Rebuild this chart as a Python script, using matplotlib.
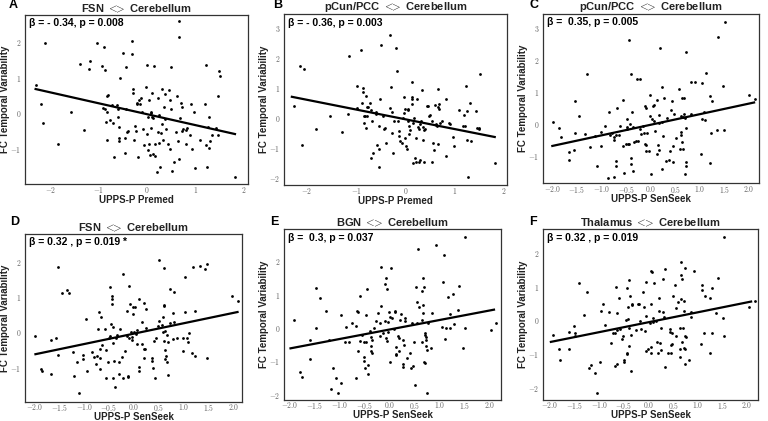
import numpy as np
import matplotlib
matplotlib.use("Agg")
import matplotlib.pyplot as plt
from matplotlib.ticker import FuncFormatter

plt.rcParams['font.family'] = ['Liberation Sans', 'DejaVu Sans']
plt.rcParams['mathtext.fontset'] = 'cm'

# ---------------- data ----------------
titles = [r"FSN $<\!\!\!>$ Cerebellum", r"pCun/PCC $<\!\!\!>$ Cerebellum", r"pCun/PCC $<\!\!\!>$ Cerebellum",
          r"FSN $<\!\!\!>$ Cerebellum", r"BGN $<\!\!\!>$ Cerebellum", r"Thalamus $<\!\!\!>$ Cerebellum"]
letters = ["A", "B", "C", "D", "E", "F"]
xlabels = ["UPPS-P Premed", "UPPS-P Premed", "UPPS-P SenSeek",
           "UPPS-P SenSeek", "UPPS-P SenSeek", "UPPS-P SenSeek"]
stats = ["β = - 0.34, p = 0.008", "β = - 0.36, p = 0.003", "β =  0.35, p = 0.005",
         "β = 0.32 , p = 0.019 *", "β =  0.3, p = 0.037", "β = 0.32 , p = 0.019"]

a_x = [-2.31, -2.12, -2.20, -2.15, -1.85, -1.58, -1.39, -1.31, -1.19, -1.20, -1.03, -0.93, -0.89, -0.87,
       -0.87, -0.91, -0.84, -0.83, -0.81, -0.86, -0.77, -0.83, -0.72, -0.68, -0.70, -0.63, -0.61, -0.60,
       -0.59, -0.58, -0.58, -0.57, -0.51, -0.46, -0.44, -0.45, -0.43, -0.41, -0.39, -0.32, -0.31, -0.29,
       -0.29, -0.26, -0.27, -0.24, -0.22, -0.20, -0.19, -0.17, -0.14, -0.12, -0.10, -0.08, -0.07, -0.03,
       -0.01, 0.00, 0.01, 0.01, 0.03, 0.03, 0.06, 0.08, 0.08, 0.09, 0.11, 0.11, 0.13, 0.12, 0.14, 0.16,
       0.17, 0.21, 0.22, 0.24, 0.23, 0.25, 0.26, 0.28, 0.30, 0.31, 0.32, 0.34, 0.37, 0.38, 0.39, 0.43,
       0.46, 0.47, 0.48, 0.49, 0.50, 0.52, 0.55, 0.59, 0.61, 0.64, 0.66, 0.66, 0.66, 0.68, 0.70, 0.72,
       0.73, 0.74, 0.80, 0.81, 0.83, 0.88, 0.90, 0.94, 0.97, 1.00, 1.10, 1.19, 1.21, 1.23, 1.24, 1.26,
       1.28, 1.28, 1.30, 1.34, 1.43, 1.46, 1.47, 1.49, 1.52, 1.83]
a_y = [0.79, 1.97, 0.25, -0.27, -0.86, 0.04, 1.40, -0.47, 1.46, 1.24, 1.99, 1.33, 1.86, 1.21,
       0.13, 0.14, 0.03, 0.48, 0.52, -0.26, -0.19, -0.77, 0.23, -1.25, -0.28, 0.23, 0.13, -0.11,
       -0.38, -0.70, -0.79, 1.00, 1.69, -0.69, 1.30, -1.13, 0.12, -0.54, -0.50, 1.66, 2.05, 0.69,
       0.56, -0.36, -0.77, -0.49, 0.25, 0.28, -1.24, 0.38, 0.26, 0.42, 0.02, -0.45, -0.90, 0.73,
       1.36, -0.60, -0.11, -1.03, 0.38, -0.87, -1.17, 0.03, -0.01, -0.42, 0.56, -0.11, -0.15, -1.16,
       1.33, -0.87, -1.22, -1.67, 0.43, -0.05, -0.54, -0.85, -1.52, -0.57, -0.30, 0.68, -0.77, 0.17,
       0.54, -0.16, -0.46, -0.86, 0.65, -1.00, 0.38, 1.30, 0.13, -1.64, -1.38, -0.53, 0.47, -0.79,
       -1.29, 2.59, 2.16, -0.15, 0.29, 0.16, -0.49, -0.46, -0.87, -0.47, -0.43, -0.62, 0.27, -1.02,
       0.02, -1.54, -0.75, 0.27, -0.91, 1.37, -1.52, -0.40, -0.12, -0.97, -0.78, -0.62, -0.42, -0.62,
       0.47, 1.19, 1.06, -1.80]

b_x = [-2.27, -2.15, -2.06, -2.10, -1.81, -1.53, -1.29, -1.16, -1.14, -0.99, -0.98, -0.90, -0.88, -0.87,
       -0.86, -0.84, -0.85, -0.82, -0.81, -0.80, -0.79, -0.76, -0.78, -0.72, -0.69, -0.69, -0.66, -0.67,
       -0.59, -0.59, -0.57, -0.54, -0.54, -0.54, -0.51, -0.50, -0.46, -0.43, -0.41, -0.40, -0.31, -0.31,
       -0.29, -0.28, -0.27, -0.26, -0.23, -0.18, -0.16, -0.14, -0.12, -0.12, -0.10, -0.07, -0.05, -0.03,
       -0.02, 0.00, -0.01, 0.01, 0.03, 0.05, 0.05, 0.06, 0.07, 0.08, 0.10, 0.13, 0.13, 0.14, 0.14, 0.16,
       0.16, 0.18, 0.20, 0.21, 0.22, 0.24, 0.25, 0.27, 0.27, 0.29, 0.30, 0.31, 0.33, 0.35, 0.36, 0.38,
       0.38, 0.40, 0.44, 0.47, 0.48, 0.50, 0.54, 0.54, 0.56, 0.59, 0.61, 0.62, 0.63, 0.65, 0.66, 0.66,
       0.67, 0.69, 0.69, 0.71, 0.74, 0.82, 0.83, 0.88, 0.90, 0.97, 1.00, 1.10, 1.18, 1.20, 1.22, 1.24,
       1.26, 1.26, 1.27, 1.31, 1.34, 1.44, 1.45, 1.49, 1.50, 1.53, 1.82]
b_y = [0.42, 1.74, 1.63, -0.88, -0.34, 0.08, -0.44, 0.13, 2.08, 1.08, 0.34, 2.29, 0.52, 1.02,
       0.87, 0.08, -0.17, 0.08, 0.73, -0.33, 0.38, 0.38, 0.09, 0.51, 0.28, -1.33, -1.16, -0.10,
       0.22, 0.14, -0.90, -1.03, -1.62, -0.25, 0.65, 2.46, 0.08, -0.37, -0.31, -0.83, 0.35, 2.79,
       1.03, 0.20, -0.48, -1.17, -0.10, 2.35, 1.57, -0.09, -0.42, -0.59, -0.75, -0.82, 0.00, 0.71,
       0.17, 0.30, -0.65, -0.92, -1.03, 0.27, 0.30, -0.10, -0.25, -0.52, -0.38, 0.66, 1.22, 0.49,
       0.70, -0.17, -1.50, 0.02, -1.31, -0.67, -1.44, 0.65, -0.29, -0.37, -1.47, -0.19, -1.40, -0.08,
       0.96, -0.72, -0.28, -0.39, -1.47, -0.37, 0.41, 0.41, 0.08, 0.10, -1.47, -0.10, -0.83, -1.05,
       0.46, -0.23, -0.20, -0.25, 0.98, 0.39, -0.86, 0.32, 0.49, -0.17, -0.10, -1.27, 0.65, -0.17,
       -0.20, -0.61, -0.92, 0.27, -0.25, 0.10, -0.27, 1.08, 0.24, -0.72, -1.94, 0.52, -0.75, 0.24,
       -0.31, -0.33, -0.34, 1.49, -1.50]

c_x = [-1.99, -1.86, -1.83, -1.67, -1.67, -1.57, -1.54, -1.54, -1.46, -1.34, -1.29, -1.23, -1.14, -1.09,
       -1.02, -1.01, -0.94, -0.87, -0.85, -0.82, -0.79, -0.75, -0.74, -0.71, -0.70, -0.70, -0.68, -0.65,
       -0.63, -0.75, -0.56, -0.56, -0.55, -0.51, -0.49, -0.48, -0.48, -0.47, -0.44, -0.44, -0.43, -0.41,
       -0.40, -0.40, -0.38, -0.37, -0.36, -0.35, -0.29, -0.28, -0.26, -0.22, -0.21, -0.20, -0.16, -0.14,
       -0.12, -0.12, -0.10, -0.10, -0.09, -0.07, -0.04, -0.02, -0.01, 0.01, 0.02, 0.05, 0.06, 0.07, 0.08,
       0.12, 0.13, 0.14, 0.16, 0.17, 0.17, 0.18, 0.22, 0.23, 0.23, 0.24, 0.26, 0.30, 0.33, 0.37, 0.39,
       0.42, 0.43, 0.45, 0.45, 0.48, 0.52, 0.57, 0.60, 0.62, 0.62, 0.62, 0.63, 0.63, 0.65, 0.66, 0.67,
       0.68, 0.69, 0.71, 0.71, 0.71, 0.70, 0.71, 0.81, 0.82, 0.89, 1.03, 1.04, 1.05, 1.09, 1.10, 1.13,
       1.20, 1.20, 1.23, 1.25, 1.35, 1.37, 1.46, 1.49, 1.50, 1.99, 2.12]
c_y = [0.05, -0.13, -0.41, -0.87, -1.12, -0.82, 0.71, -0.28, 0.25, -0.32, 1.56, -0.72, -0.38, -1.33,
       -0.24, -0.69, -0.07, -1.70, 0.38, -0.36, -0.30, -0.49, -0.41, -1.32, -1.15, -0.35, 0.49, -0.36,
       -0.07, -1.66, 0.76, -0.68, -1.54, -0.62, -0.15, 0.14, -0.09, -0.62, -0.64, 2.63, 0.01, 1.56,
       -1.06, -1.27, 0.37, -1.46, -0.09, -0.57, -0.55, 1.39, -0.55, -0.15, 1.40, -0.32, -0.07, -0.30,
       -0.62, 0.57, 0.51, -0.67, -0.85, -0.28, -0.84, 0.92, 0.26, -1.58, 0.16, 0.57, 0.09, 0.59, -0.22,
       -0.93, 0.74, -0.65, 0.29, 0.03, -0.83, 2.37, 1.14, 0.06, -1.40, -0.39, 0.82, -1.17, 0.19, -1.12,
       -0.85, 0.45, 0.71, -0.70, -1.18, 0.32, -0.44, 1.08, -0.78, 0.26, -0.36, -0.25, -0.57, 0.82, 0.22,
       -0.80, 0.80, 0.32, 0.17, -0.13, -1.19, -1.31, -1.58, 2.24, 0.32, 1.30, 1.30, -0.95, 1.28, 0.15,
       0.36, 0.12, 1.60, -1.21, 0.87, -0.28, 0.72, -0.20, 2.73, 1.18, -0.20, 3.18, 0.92, 0.77]

d_x = [-1.98, -1.87, -1.84, -1.67, -1.67, -1.57, -1.53, -1.53, -1.45, -1.34, -1.30, -1.23, -1.20, -1.14,
       -1.10, -1.03, -1.02, -0.97, -0.94, -0.85, -0.81, -0.76, -0.75, -0.73, -0.71, -0.69, -0.69, -0.68,
       -0.66, -0.65, -0.59, -0.57, -0.56, -0.53, -0.50, -0.49, -0.48, -0.46, -0.45, -0.44, -0.44, -0.43,
       -0.43, -0.42, -0.40, -0.39, -0.37, -0.35, -0.31, -0.31, -0.29, -0.25, -0.22, -0.22, -0.18, -0.15,
       -0.15, -0.13, -0.12, -0.10, -0.10, -0.09, -0.07, -0.05, -0.04, -0.02, -0.01, 0.01, 0.03, 0.04,
       0.06, 0.07, 0.10, 0.10, 0.10, 0.17, 0.17, 0.20, 0.20, 0.21, 0.23, 0.24, 0.24, 0.36, 0.37, 0.39,
       0.41, 0.43, 0.45, 0.48, 0.50, 0.51, 0.56, 0.58, 0.58, 0.60, 0.60, 0.60, 0.61, 0.62, 0.63, 0.63,
       0.65, 0.66, 0.67, 0.68, 0.69, 0.72, 0.73, 0.78, 0.79, 0.80, 0.80, 0.86, 0.98, 0.99, 1.02, 1.03,
       1.06, 1.08, 1.11, 1.16, 1.19, 1.22, 1.22, 1.32, 1.42, 1.47, 1.47, 1.96, 2.08]
d_y = [-0.09, -1.04, -1.10, -1.17, -0.21, -0.15, 1.87, -0.63, 1.13, 1.21, 1.12, -0.55, -1.23, -0.84,
       -1.72, -0.64, -0.76, 0.37, -1.10, -0.55, -0.71, -0.91, -0.67, 0.11, 0.59, -0.48, -1.05, -0.72,
       0.44, -0.35, 0.09, -0.51, -1.30, -0.84, -0.15, -0.11, 1.30, 0.25, 1.03, 0.96, 0.82, 0.15,
       -0.29, -1.31, -0.82, -1.55, -0.16, -0.06, -0.83, -1.17, 0.10, -0.70, -1.31, 1.66, -0.52, 0.61,
       -0.11, -1.27, -1.25, -0.15, 1.32, 0.82, 0.02, -0.21, -0.12, 0.52, 0.72, 0.02, 0.72, -0.04,
       -0.32, 0.08, -0.98, -1.10, 0.94, 0.30, -0.32, 0.83, -0.46, -0.74, -0.46, 0.66, 0.13, -0.80,
       -0.72, -1.00, -0.24, -1.29, -0.15, 0.17, 0.32, 2.07, 0.20, 0.43, 0.02, 1.82, 0.75, 0.78,
       -0.25, -0.50, 0.04, -0.77, -0.68, -0.84, -0.06, -0.27, -1.22, 1.24, 0.28, -0.20, 0.54, 1.16,
       0.29, -0.15, -0.52, -0.15, 1.59, 0.59, -0.15, -0.27, -0.02, -0.58, 1.86, -0.67, 0.61, 1.90,
       1.80, 1.95, -0.74, 1.05, 0.88]

e_x = [-1.91, -1.80, -1.75, -1.60, -1.60, -1.48, -1.47, -1.39, -1.28, -1.22, -1.17, -1.13, -1.07, -1.03,
       -0.97, -0.97, -0.90, -0.87, -0.81, -0.75, -0.68, -0.67, -0.65, -0.63, -0.63, -0.59, -0.60, -0.55,
       -0.52, -0.51, -0.51, -0.50, -0.48, -0.47, -0.45, -0.43, -0.43, -0.40, -0.38, -0.37, -0.35, -0.37,
       -0.35, -0.31, -0.28, -0.23, -0.20, -0.20, -0.17, -0.17, -0.14, -0.10, -0.10, -0.08, -0.07, -0.05,
       -0.05, -0.03, -0.03, -0.01, 0.00, 0.01, 0.03, 0.05, 0.08, 0.10, 0.11, 0.12, 0.13, 0.13, 0.17,
       0.18, 0.19, 0.21, 0.23, 0.26, 0.27, 0.27, 0.28, 0.30, 0.31, 0.35, 0.40, 0.42, 0.45, 0.46, 0.49,
       0.51, 0.53, 0.54, 0.55, 0.57, 0.59, 0.65, 0.65, 0.65, 0.67, 0.67, 0.67, 0.68, 0.69, 0.70, 0.70,
       0.71, 0.72, 0.73, 0.73, 0.74, 0.75, 0.77, 0.83, 0.85, 0.92, 1.05, 1.07, 1.08, 1.11, 1.13, 1.16,
       1.20, 1.21, 1.27, 1.28, 1.37, 1.39, 1.47, 1.51, 1.51, 2.02, 2.13]
e_y = [0.24, -1.33, -1.47, -0.36, -0.93, 1.21, -0.01, 0.91, 0.51, -0.36, -1.84, -1.19, -1.51, -1.96,
       -1.66, 0.38, -0.41, 0.03, -0.43, 0.14, 0.06, -1.49, 0.52, 0.47, -0.68, 0.97, -0.39, -0.21,
       -0.98, -0.41, -0.86, -1.21, 0.39, -0.43, 1.17, -1.11, -1.38, -0.08, -0.53, -0.26, -0.36, -0.69,
       -0.74, -0.01, 0.21, 0.46, 0.14, -0.23, 1.82, 0.67, -0.14, 0.22, 1.32, -0.31, 1.51, 1.17,
       -0.39, 0.17, -0.13, 0.49, 0.34, -1.01, 1.79, 0.31, -0.03, 0.47, 0.51, -0.78, -0.81, -0.56, -0.24,
       -0.69, -0.31, 0.24, 0.41, -0.36, -1.08, -1.17, -0.51, 0.21, 0.29, -0.91, -0.74, -1.19, 0.14,
       -1.13, -0.41, -1.72, 1.24, 0.14, 0.79, 2.36, 0.62, 1.11, 0.24, -0.41, 0.69, 1.49, 0.46, 1.24,
       -1.01, -0.21, -1.06, -0.16, -0.26, -0.36, -0.53, -1.96, -0.66, 0.14, -0.61, 0.46, 2.49, 0.04,
       1.37, 2.19, -0.33, -0.01, 0.94, 0.01, 0.41, 1.01, 0.12, 0.54, 1.26, -0.61, 0.01, 2.72, -0.07,
       0.14]

f_x = [-1.94, -1.82, -1.79, -1.62, -1.62, -1.51, -1.49, -1.49, -1.41, -1.30, -1.25, -1.20, -1.16, -1.09,
       -1.05, -0.99, -0.97, -0.92, -0.89, -0.81, -0.77, -0.72, -0.69, -0.69, -0.66, -0.64, -0.64, -0.63,
       -0.60, -0.57, -0.54, -0.52, -0.50, -0.49, -0.46, -0.44, -0.44, -0.43, -0.42, -0.41, -0.40, -0.40,
       -0.39, -0.37, -0.36, -0.36, -0.34, -0.33, -0.26, -0.22, -0.20, -0.17, -0.15, -0.11, -0.09, -0.07,
       -0.06, -0.05, -0.05, -0.01, 0.02, 0.04, 0.04, 0.05, 0.05, 0.07, 0.09, 0.10, 0.11, 0.16, 0.18,
       0.20, 0.21, 0.22, 0.24, 0.26, 0.26, 0.29, 0.30, 0.32, 0.33, 0.34, 0.40, 0.43, 0.44, 0.46, 0.46,
       0.48, 0.48, 0.49, 0.53, 0.55, 0.56, 0.59, 0.63, 0.64, 0.64, 0.65, 0.65, 0.66, 0.68, 0.68, 0.70,
       0.71, 0.71, 0.72, 0.73, 0.73, 0.74, 0.74, 0.76, 0.83, 0.86, 0.86, 0.93, 1.07, 1.08, 1.08, 1.12,
       1.14, 1.24, 1.24, 1.29, 1.29, 1.37, 1.41, 1.51, 1.53, 1.53, 2.03, 2.16]
f_y = [-0.45, -0.86, -1.18, -0.34, -0.85, -0.16, -0.39, -0.46, 1.10, 0.16, 0.83, -1.43, -1.33, -1.58,
       -2.17, -1.23, 0.28, 0.48, -0.14, 0.24, -0.66, -0.38, -0.39, -1.37, 0.98, -1.31, 0.21, -0.29,
       0.68, -0.26, -0.54, -0.47, -1.25, -1.18, 0.01, -0.96, -1.01, 0.95, 0.04, 0.41, -0.22, 1.20,
       -0.76, 0.73, -1.50, -0.44, 0.50, 0.46, -0.29, 0.49, 0.49, -0.02, -0.27, 0.85, 0.41, -0.32,
       0.14, 1.15, -0.91, -0.85, -0.09, -0.98, 1.47, -0.78, 0.50, 1.45, 0.06, -0.06, 1.11, -0.02, -0.64,
       -0.98, 0.66, 0.28, -0.66, -0.22, -0.88, 0.24, 1.23, 0.11, 1.52, -1.38, -0.98, -0.34, -0.26,
       -0.98, -0.73, -0.69, -0.39, 0.73, 1.05, -0.47, 0.36, 0.56, -0.22, -0.86, -1.08, 1.73, 1.35,
       0.63, 1.23, -0.64, -0.22, 0.59, -0.81, 0.28, -0.85, -1.30, 1.55, -0.47, -0.49, -1.18, 0.26,
       0.11, 1.48, -0.71, 1.04, 0.90, -0.37, 0.72, 0.66, -0.98, 0.95, -0.37, 0.21, 1.25, 0.06, -0.47,
       2.47, 0.39, 0.59]

# regression line end points
a_line_x, a_line_y = [-2.31, 1.82], [0.68, -0.59]
b_line_x, b_line_y = [-2.31, 1.82], [0.72, -0.62]
c_line_x, c_line_y = [-2.00, 2.10], [-0.69, 0.67]
d_line_x, d_line_y = [-1.98, 2.08], [-0.62, 0.58]
e_line_x, e_line_y = [-1.98, 2.08], [-0.61, 0.55]
f_line_x, f_line_y = [-1.98, 2.08], [-0.64, 0.56]

xticks_premed = [-2, -1, 0, 1, 2]
xticks_senseek = [-2.0, -1.5, -1.0, -0.5, 0.0, 0.5, 1.0, 1.5, 2.0]
yticks_a = [-1, 0, 1, 2]
yticks_b = [-2, -1, 0, 1, 2, 3]
yticks_c = [-1, 0, 1, 2, 3]
yticks_d = [-1, 0, 1, 2]
yticks_e = [-2, -1, 0, 1, 2]
yticks_f = [-2, -1, 0, 1, 2]

panels = [
    (a_x, a_y, a_line_x, a_line_y, xticks_premed, yticks_a, (-2.53, 2.09), (-2.0, 2.77), "int"),
    (b_x, b_y, b_line_x, b_line_y, xticks_premed, yticks_b, (-2.47, 2.07), (-2.22, 3.48), "int"),
    (c_x, c_y, c_line_x, c_line_y, xticks_senseek, yticks_c, (-2.19, 2.20), (-1.85, 3.44), "dec"),
    (d_x, d_y, d_line_x, d_line_y, xticks_senseek, yticks_d, (-2.19, 2.17), (-1.98, 2.80), "dec"),
    (e_x, e_y, e_line_x, e_line_y, xticks_senseek, yticks_e, (-2.11, 2.22), (-2.16, 2.97), "dec"),
    (f_x, f_y, f_line_x, f_line_y, xticks_senseek, yticks_f, (-2.14, 2.22), (-2.37, 2.72), "dec"),
]

# layout in pixels: axes box (left, top, right, bottom), panel-letter position,
# x-tick pad (pt), x-label centre offset below box
boxes = [(25, 15, 248, 184), (284, 14, 507, 185), (543, 14, 759, 183),
         (25, 234, 242, 402), (284, 229, 501, 400), (543, 229, 758, 400)]
letter_pos = [(13, 5), (278, 5), (534, 5), (15, 222), (274, 222), (533, 222)]
xpad = [0.7, 0.7, 0.7, 0.0, 0.0, 0.0]
xlab_off = [16, 16, 16, 14.5, 14.5, 14.5]

W, H = 768, 421
fig = plt.figure(figsize=(W / 100, H / 100), dpi=100)

fmt_int = FuncFormatter(lambda v, p: r"$%d$" % round(v))
fmt_dec = FuncFormatter(lambda v, p: r"$%.1f$" % v)

for i, (px, py, lx, ly, xt, yt, xl, yl, kind) in enumerate(panels):
    l, t, r, b = boxes[i]
    w, h = r - l, b - t
    ax = fig.add_axes([l / W, 1 - b / H, w / W, h / H])
    ax.scatter(px, py, s=4, color="black", linewidths=0, zorder=3)
    ax.plot(lx, ly, color="black", lw=1.6, zorder=4)
    ax.set_xlim(*xl)
    ax.set_ylim(*yl)
    ax.set_xticks(xt)
    ax.set_yticks(yt)
    ax.xaxis.set_major_formatter(fmt_int if kind == "int" else fmt_dec)
    ax.yaxis.set_major_formatter(fmt_int)
    ax.tick_params(length=0, labelsize=5.5, colors="#666666")
    ax.tick_params(axis="x", pad=xpad[i])
    ax.tick_params(axis="y", pad=2.5)
    for s in ax.spines.values():
        s.set_color("#333333")
        s.set_linewidth(0.9)
    ax.set_title(titles[i], fontsize=8, fontweight="bold", pad=2, color="#222222")
    ax.set_xlabel(xlabels[i], fontsize=7, fontweight="bold", color="#222222", va="center")
    ax.xaxis.set_label_coords(0.5, -xlab_off[i] / h)
    ax.set_ylabel("FC Temporal Variability", fontsize=7, fontweight="bold", color="#222222", va="center")
    ax.yaxis.set_label_coords(-20 / w, 0.5)
    ax.text(0.02, 0.95, stats[i], transform=ax.transAxes, fontsize=7.5, fontweight="bold",
            ha="left", va="center", color="black",
            family=["Liberation Sans", "DejaVu Sans"])
    fig.text(letter_pos[i][0] / W, 1 - letter_pos[i][1] / H, letters[i], fontsize=9,
             fontweight="bold", ha="center", va="center")

fig.savefig("out.png", dpi=100)
